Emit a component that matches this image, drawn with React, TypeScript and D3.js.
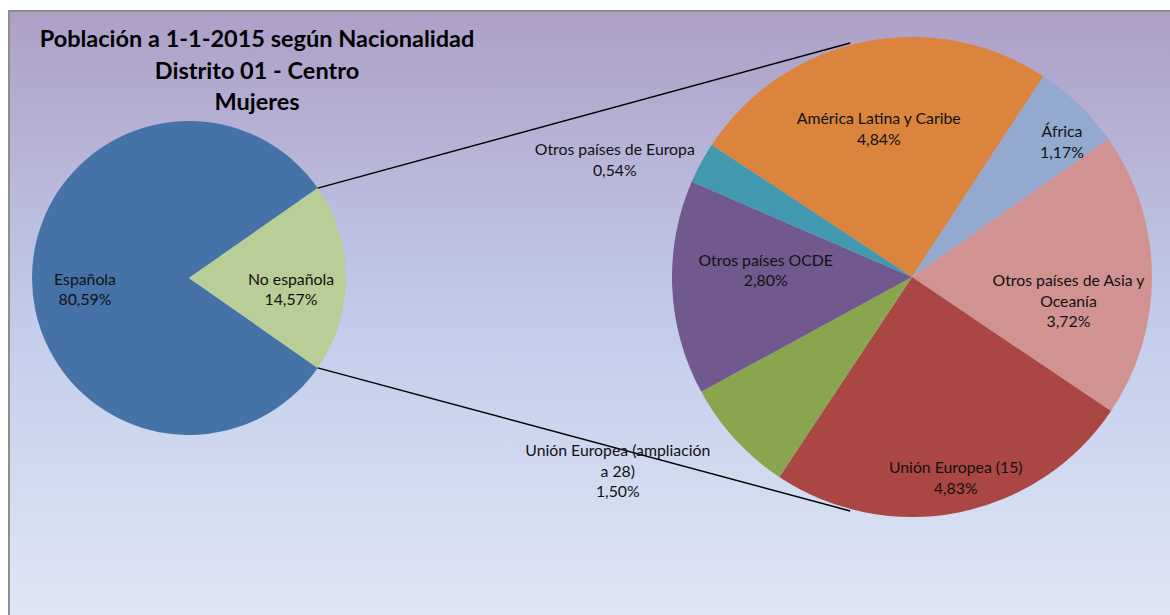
import * as d3 from "d3";

const width = 1170;
const height = 615;

// Left pie
const mainNames = ["Española", "No española"];
const mainLabels = ["80,59%", "14,57%"];
const espanola = 80.59;

// Right pie (breakdown of "No española")
const subNames = [
  "América Latina y Caribe",
  "África",
  "Otros países de Asia y Oceanía",
  "Unión Europea (15)",
  "Unión Europea (ampliación a 28)",
  "Otros países OCDE",
  "Otros países de Europa",
];
const subValues = [4.84, 1.17, 3.72, 4.83, 1.5, 2.8, 0.54];
const subLabels = ["4,84%", "1,17%", "3,72%", "4,83%", "1,50%", "2,80%", "0,54%"];

const mainColors = ["#4572A7", "#B9CD96"];
const subColors = ["#DB843D", "#93A9CF", "#D19392", "#AA4643", "#89A54E", "#71588F", "#4198AF"];

// how the label text wraps, like Excel does it
const subLines = [
  ["América Latina y Caribe"],
  ["África"],
  ["Otros países de Asia y", "Oceanía"],
  ["Unión Europea (15)"],
  ["Unión Europea (ampliación", "a 28)"],
  ["Otros países OCDE"],
  ["Otros países de Europa"],
];
// label radius (fraction of r) and angle shift in degrees
const subLabelPos = [
  { k: 0.63, da: -1 },
  { k: 0.84, da: 4 },
  { k: 0.66, da: 9.5 },
  { k: 0.86, da: -1 },
  { k: 1.47, da: 9 },
  { k: 0.61, da: 5 },
  { k: 1.33, da: -7 },
];

const deg = Math.PI / 180;
const font = "Lato, 'Liberation Sans', sans-serif";

const App = () => {
  const c1 = { x: 189, y: 278, r: 157 };
  const c2 = { x: 912, y: 277, r: 240 };

  const otherTotal = d3.sum(subValues);
  const mainValues = [espanola, otherTotal];
  const otherAngle = (otherTotal / (espanola + otherTotal)) * 2 * Math.PI;

  const pieMain = d3
    .pie<number>()
    .sort(null)
    .startAngle(Math.PI / 2 + otherAngle / 2)
    .endAngle(Math.PI / 2 + otherAngle / 2 + 2 * Math.PI);
  const mainArcs = pieMain(mainValues);

  const pieSub = d3
    .pie<number>()
    .sort(null)
    .startAngle(-56.6 * deg)
    .endAngle(-56.6 * deg + 2 * Math.PI);
  const subArcs = pieSub(subValues);

  const arc1 = d3.arc<d3.PieArcDatum<number>>().innerRadius(0).outerRadius(c1.r);
  const arc2 = d3.arc<d3.PieArcDatum<number>>().innerRadius(0).outerRadius(c2.r);

  // connector lines: ends of the "No española" slice to the top/bottom of the right pie
  const pt = (c: { x: number; y: number }, r: number, a: number) => [
    c.x + r * Math.sin(a),
    c.y - r * Math.cos(a),
  ];
  const o = mainArcs[1];
  const conn = [
    [pt(c1, c1.r, o.startAngle), pt(c2, c2.r + 2, -14.8 * deg)],
    [pt(c1, c1.r, o.endAngle), pt(c2, c2.r + 2, 194.8 * deg)],
  ];

  const mainLabelPos = [
    { dx: -104, dy: 11 },
    { dx: 102, dy: 11 },
  ];

  return (
    <div style={{ position: "absolute", left: 0, top: 0 }}>
      <svg width={width} height={height} style={{ display: "block" }}>
        <defs>
          <linearGradient id="bg" x1="0" y1="0" x2="0" y2="1">
            <stop offset="0" stopColor="#AE9FC7" />
            <stop offset="0.5" stopColor="#C2CCEA" />
            <stop offset="1" stopColor="#E0E7F5" />
          </linearGradient>
        </defs>
        <rect x={0} y={0} width={width} height={height} fill="#fff" />
        <rect x={9} y={11} width={width} height={height} fill="url(#bg)" stroke="#8E8E8E" strokeWidth={2} />

        <g fontFamily={font} fontWeight="bold" fontSize={23.5} textAnchor="middle" fill="#000">
          <text x={257} y={47}>Población a 1-1-2015 según Nacionalidad</text>
          <text x={257} y={79}>Distrito 01 - Centro</text>
          <text x={257} y={110}>Mujeres</text>
        </g>

        <g transform={`translate(${c1.x},${c1.y})`}>
          {mainArcs.map((a, i) => (
            <path key={mainNames[i]} d={arc1(a) ?? ""} fill={mainColors[i]} />
          ))}
        </g>

        {conn.map((l, i) => (
          <line key={i} x1={l[0][0]} y1={l[0][1]} x2={l[1][0]} y2={l[1][1]} stroke="#000" strokeWidth={1.5} />
        ))}

        <g transform={`translate(${c2.x},${c2.y})`}>
          {subArcs.map((a, i) => (
            <path key={subNames[i]} d={arc2(a) ?? ""} fill={subColors[i]} />
          ))}
        </g>

        <g fontFamily={font} fontSize={15.8} textAnchor="middle" fill="#111">
          {mainArcs.map((a, i) => {
            const x = c1.x + mainLabelPos[i].dx;
            const y = c1.y + mainLabelPos[i].dy;
            return (
              <text key={mainNames[i]} x={x} y={y}>
                <tspan x={x} dy={-4}>{mainNames[i]}</tspan>
                <tspan x={x} dy={20}>{mainLabels[i]}</tspan>
              </text>
            );
          })}
          {subArcs.map((a, i) => {
            const p = subLabelPos[i];
            const mid = (a.startAngle + a.endAngle) / 2 + p.da * deg;
            const [x, y] = pt(c2, c2.r * p.k, mid);
            const lines = [...subLines[i], subLabels[i]];
            const top = y - ((lines.length - 1) * 20.5) / 2 + 5;
            return (
              <text key={subNames[i]}>
                {lines.map((t, j) => (
                  <tspan key={j} x={x} y={top + j * 20.5}>{t}</tspan>
                ))}
              </text>
            );
          })}
        </g>
      </svg>
    </div>
  );
};

export default App;
